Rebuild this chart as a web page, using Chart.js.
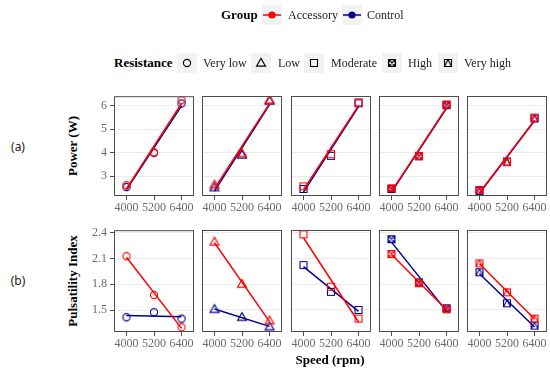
<!DOCTYPE html>
<html>
<head>
<meta charset="utf-8">
<script src="https://cdn.jsdelivr.net/npm/chart.js@4.4.0/dist/chart.umd.min.js"></script>
<style>
  body { margin: 0; background: #fff; }
  #wrap { position: relative; width: 550px; height: 369px; overflow: hidden; font-family: "Liberation Serif", serif; color: #1a1a1a; }
  #wrap canvas { position: absolute; }
  .t { position: absolute; white-space: nowrap; font-family: "Liberation Serif", serif; font-size: 12px; line-height: 14px; color: #222; }
  .c { transform: translate(-50%, -50%); }
  .b { font-weight: bold; font-size: 13px; color: #000; }
  .rot { transform: translate(-50%, -50%) rotate(-90deg); }
</style>
</head>
<body>
<div id="wrap"></div>
<script>
// data
const speeds = [4000, 5200, 6400];
const resistances = ['Very low', 'Low', 'Moderate', 'High', 'Very high'];
const groups = ['Accessory', 'Control'];
const powerTicks = [3, 4, 5, 6];
const piTicks = [1.5, 1.8, 2.1, 2.4];

// one row per resistance level, values at 4000 / 5200 / 6400 rpm
const powerAccessory = [
    [2.61, 4.00, 6.24],
    [2.63, 3.97, 6.24],
    [2.56, 3.93, 6.14],
    [2.48, 3.86, 6.05],
    [2.41, 3.59, 5.49]
];
const powerControl = [
    [2.53, 4.00, 6.10],
    [2.51, 3.90, 6.20],
    [2.45, 3.86, 6.10],
    [2.45, 3.84, 6.02],
    [2.36, 3.62, 5.45]
];
const piAccessory = [
    [2.125, 1.674, 1.300],
    [2.290, 1.800, 1.376],
    [2.377, 1.770, 1.400],
    [2.149, 1.810, 1.508],
    [2.040, 1.705, 1.400]
];
const piControl = [
    [1.416, 1.474, 1.400],
    [1.508, 1.416, 1.307],
    [2.020, 1.710, 1.500],
    [2.320, 1.820, 1.520],
    [1.937, 1.578, 1.319]
];

const colors = { Accessory: '#ff0000', Control: '#00008b' };
const shapes = ['circle', 'triangle', 'square', 'high', 'veryhigh'];

const wrap = document.getElementById('wrap');

function drawShape(ctx, shape, cx, cy, color) {
    ctx.strokeStyle = color;
    ctx.lineWidth = 1.1;
    ctx.beginPath();
    if (shape === 'circle') {
        ctx.arc(cx, cy, 3.6, 0, Math.PI * 2);
    } else if (shape === 'triangle') {
        ctx.moveTo(cx, cy - 4.6);
        ctx.lineTo(cx + 4.5, cy + 3.1);
        ctx.lineTo(cx - 4.5, cy + 3.1);
        ctx.closePath();
    } else {
        ctx.rect(cx - 3.5, cy - 3.5, 7, 7);
        if (shape === 'high') {
            ctx.moveTo(cx + 3.3, cy);
            ctx.arc(cx, cy, 3.3, 0, Math.PI * 2);
            ctx.moveTo(cx - 2.4, cy - 2.4); ctx.lineTo(cx + 2.4, cy + 2.4);
            ctx.moveTo(cx + 2.4, cy - 2.4); ctx.lineTo(cx - 2.4, cy + 2.4);
        } else if (shape === 'veryhigh') {
            ctx.moveTo(cx, cy - 3.5);
            ctx.lineTo(cx + 3.5, cy + 3.5);
            ctx.moveTo(cx, cy - 3.5);
            ctx.lineTo(cx - 3.5, cy + 3.5);
        }
    }
    ctx.stroke();
}

function pointImage(shape, color) {
    const c = document.createElement('canvas');
    c.width = 14; c.height = 14;
    drawShape(c.getContext('2d'), shape, 7, 7, color);
    return c;
}

// least squares line through the three speeds
function fitLine(vals) {
    const n = speeds.length;
    const mx = speeds.reduce((a, b) => a + b, 0) / n;
    const my = vals.reduce((a, b) => a + b, 0) / n;
    let sxy = 0, sxx = 0;
    speeds.forEach((x, i) => { sxy += (x - mx) * (vals[i] - my); sxx += (x - mx) * (x - mx); });
    const k = sxy / sxx;
    const x0 = speeds[0], x1 = speeds[n - 1];
    return [{ x: x0, y: my + k * (x0 - mx) }, { x: x1, y: my + k * (x1 - mx) }];
}

function addText(txt, x, y, cls, left) {
    const d = document.createElement('div');
    d.className = 't ' + cls;
    d.textContent = txt;
    d.style.left = x + 'px';
    d.style.top = (left ? y - 7 : y) + 'px';
    wrap.appendChild(d);
    return d;
}

const panelBorder = {
    id: 'panelBorder',
    afterDraw(chart) {
        const a = chart.chartArea, ctx = chart.ctx;
        ctx.save();
        ctx.strokeStyle = '#4d4d4d';
        ctx.lineWidth = 1;
        ctx.strokeRect(a.left + 0.5, a.top + 0.5, a.width - 1, a.height - 1);
        ctx.restore();
    }
};

const panelLefts = [114, 202, 291, 379, 467];
const panelW = 80;
const rows = [
    { top: 96, h: 100, acc: powerAccessory, ctl: powerControl, ticks: powerTicks, min: 2.15, max: 6.41, fmt: v => String(v) },
    { top: 230, h: 102, acc: piAccessory, ctl: piControl, ticks: piTicks, min: 1.245, max: 2.427, fmt: v => v.toFixed(1) }
];

rows.forEach(row => {
    resistances.forEach((res, c) => {
        const L = c === 0 ? 30 : 8, T = 10, R = 8, B = 24;
        const cv = document.createElement('canvas');
        cv.width = L + panelW + R;
        cv.height = T + row.h + B;
        cv.style.left = (panelLefts[c] - L) + 'px';
        cv.style.top = (row.top - T) + 'px';
        wrap.appendChild(cv);

        const datasets = [];
        groups.forEach(g => {
            const vals = g === 'Accessory' ? row.acc[c] : row.ctl[c];
            datasets.push({
                label: g + ' fit', data: fitLine(vals), showLine: true,
                borderColor: colors[g], borderWidth: 1.5, pointRadius: 0
            });
            datasets.push({
                label: g, data: speeds.map((s, i) => ({ x: s, y: vals[i] })), showLine: false,
                pointStyle: pointImage(shapes[c], colors[g]), pointRadius: 5
            });
        });

        new Chart(cv.getContext('2d'), {
            type: 'scatter',
            data: { datasets },
            options: {
                responsive: false,
                animation: false,
                layout: { padding: { top: T, right: R, left: 0, bottom: 0 } },
                plugins: { legend: { display: false }, tooltip: { enabled: false } },
                scales: {
                    x: {
                        type: 'linear', min: 3455, max: 6945,
                        afterBuildTicks: s => { s.ticks = speeds.map(v => ({ value: v })); },
                        afterFit: s => { s.height = B; },
                        grid: { drawOnChartArea: false, tickLength: 4, tickColor: '#4d4d4d' },
                        border: { display: false },
                        ticks: {
                            color: '#6b6b6b', padding: 1, maxRotation: 0, autoSkip: false,
                            font: { family: 'Liberation Serif', size: 12 },
                            callback: v => String(v)
                        }
                    },
                    y: {
                        min: row.min, max: row.max,
                        afterBuildTicks: s => { s.ticks = row.ticks.map(v => ({ value: v })); },
                        afterFit: s => { s.width = L; },
                        grid: { color: '#ebebeb', lineWidth: 1, drawTicks: c === 0, tickLength: 4, tickColor: '#4d4d4d' },
                        border: { display: false },
                        ticks: {
                            display: c === 0, color: '#6b6b6b', padding: 3,
                            font: { family: 'Liberation Serif', size: 12 },
                            callback: v => row.fmt(v)
                        }
                    }
                }
            },
            plugins: [panelBorder]
        });
    });
});

// axis titles and row tags
addText('Power (W)', 73, 146, 'b rot');
addText('Pulsatility Index', 73, 281, 'b rot');
addText('Speed (rpm)', 330, 360, 'b c');
const ta = addText('(a)', 18, 147, 'c');
const tb = addText('(b)', 18, 281, 'c');
ta.style.fontFamily = tb.style.fontFamily = '"Noto Sans", sans-serif';

// legends
function keyBox(x, y, draw) {
    const k = document.createElement('canvas');
    k.width = 20; k.height = 20;
    k.style.left = x + 'px'; k.style.top = y + 'px';
    const ctx = k.getContext('2d');
    ctx.fillStyle = '#f2f2f2';
    ctx.fillRect(0, 0, 20, 20);
    draw(ctx);
    wrap.appendChild(k);
}

addText('Group', 221, 15, 'b', true);
const groupKeyX = [262, 342], groupLabelX = [288, 367];
groups.forEach((g, i) => {
    keyBox(groupKeyX[i], 5, ctx => {
        ctx.strokeStyle = colors[g]; ctx.lineWidth = 1.5;
        ctx.beginPath(); ctx.moveTo(1, 10); ctx.lineTo(19, 10); ctx.stroke();
        ctx.fillStyle = colors[g];
        ctx.beginPath(); ctx.arc(10, 10, 3.6, 0, Math.PI * 2); ctx.fill();
    });
    addText(g, groupLabelX[i], 15, '', true);
});

addText('Resistance', 114, 63, 'b', true);
const resKeyX = [177, 251, 304, 382, 438], resLabelX = [203, 278, 331, 408, 464];
resistances.forEach((r, i) => {
    keyBox(resKeyX[i], 53, ctx => drawShape(ctx, shapes[i], 10, 10, '#000'));
    addText(r, resLabelX[i], 63, '', true);
});
</script>
</body>
</html>
